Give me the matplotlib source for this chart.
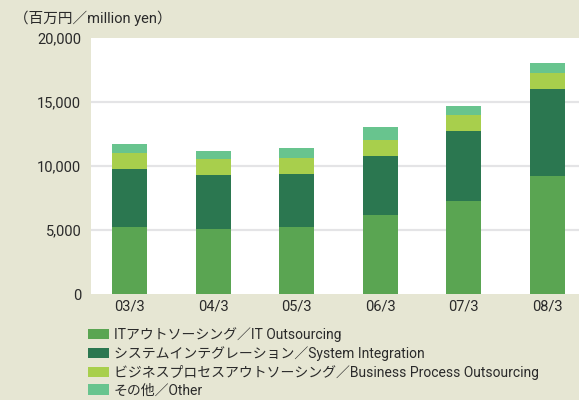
import matplotlib
matplotlib.use("Agg")
import matplotlib.pyplot as plt
from matplotlib.patches import Patch

plt.rcParams['font.family'] = ['Roboto', 'Noto Sans CJK JP', 'DejaVu Sans']

# data (million yen)
periods = ["03/3", "04/3", "05/3", "06/3", "07/3", "08/3"]
it_outsourcing = [5200, 5040, 5270, 6210, 7300, 9180]
system_integration = [4600, 4220, 4070, 4610, 5400, 6870]
bpo = [1180, 1250, 1250, 1250, 1250, 1250]
other = [700, 700, 780, 940, 700, 710]

labels = ["ITアウトソーシング／IT Outsourcing",
          "システムインテグレーション／System Integration",
          "ビジネスプロセスアウトソーシング／Business Process Outsourcing",
          "その他／Other"]
colors = ["#5aa552", "#2b7750", "#a8cf4c", "#68c48e"]
yticks = [0, 5000, 10000, 15000, 20000]

bg = "#e6e6d3"
txt = "#2a2a2a"

fig = plt.figure(figsize=(5.79, 4.0), dpi=100, facecolor=bg)
ax = fig.add_axes([91/579, 1 - 294/400, 1 - 91/579, 256/400])
ax.set_facecolor("white")

x = list(range(len(periods)))
series = [it_outsourcing, system_integration, bpo, other]
bottom = [0] * len(periods)
for vals, c in zip(series, colors):
    ax.bar(x, vals, width=0.42, bottom=bottom, color=c, zorder=3)
    bottom = [b + v for b, v in zip(bottom, vals)]

ax.set_xlim(-0.46, 5.377)
ax.set_ylim(0, 20000)
ax.set_yticks(yticks)
ax.set_yticklabels([f"{v:,}" for v in yticks])
ax.set_xticks(x)
ax.set_xticklabels(periods)
for y in yticks[1:-1]:
    ax.axhline(y, color="#e4e4e6", lw=1.6, zorder=1)

for s in ax.spines.values():
    s.set_visible(False)
ax.tick_params(length=0, labelsize=10.5, colors=txt)
ax.tick_params(axis="y", pad=7)
ax.tick_params(axis="x", pad=4)

fig.text(14/579, 1 - 18/400, "（百万円／million yen）", fontsize=10.5,
         color=txt, va="center", ha="left")

handles = [Patch(facecolor=c, edgecolor="none") for c in colors]
fig.legend(handles, labels, loc="upper left", bbox_to_anchor=(88/579, 1 - 327/400),
           frameon=False, fontsize=10, labelcolor=txt, handlelength=1.5,
           handleheight=0.78, handletextpad=0.35, labelspacing=0.28,
           borderpad=0, borderaxespad=0)

fig.savefig("out.png", dpi=100, facecolor=bg)
